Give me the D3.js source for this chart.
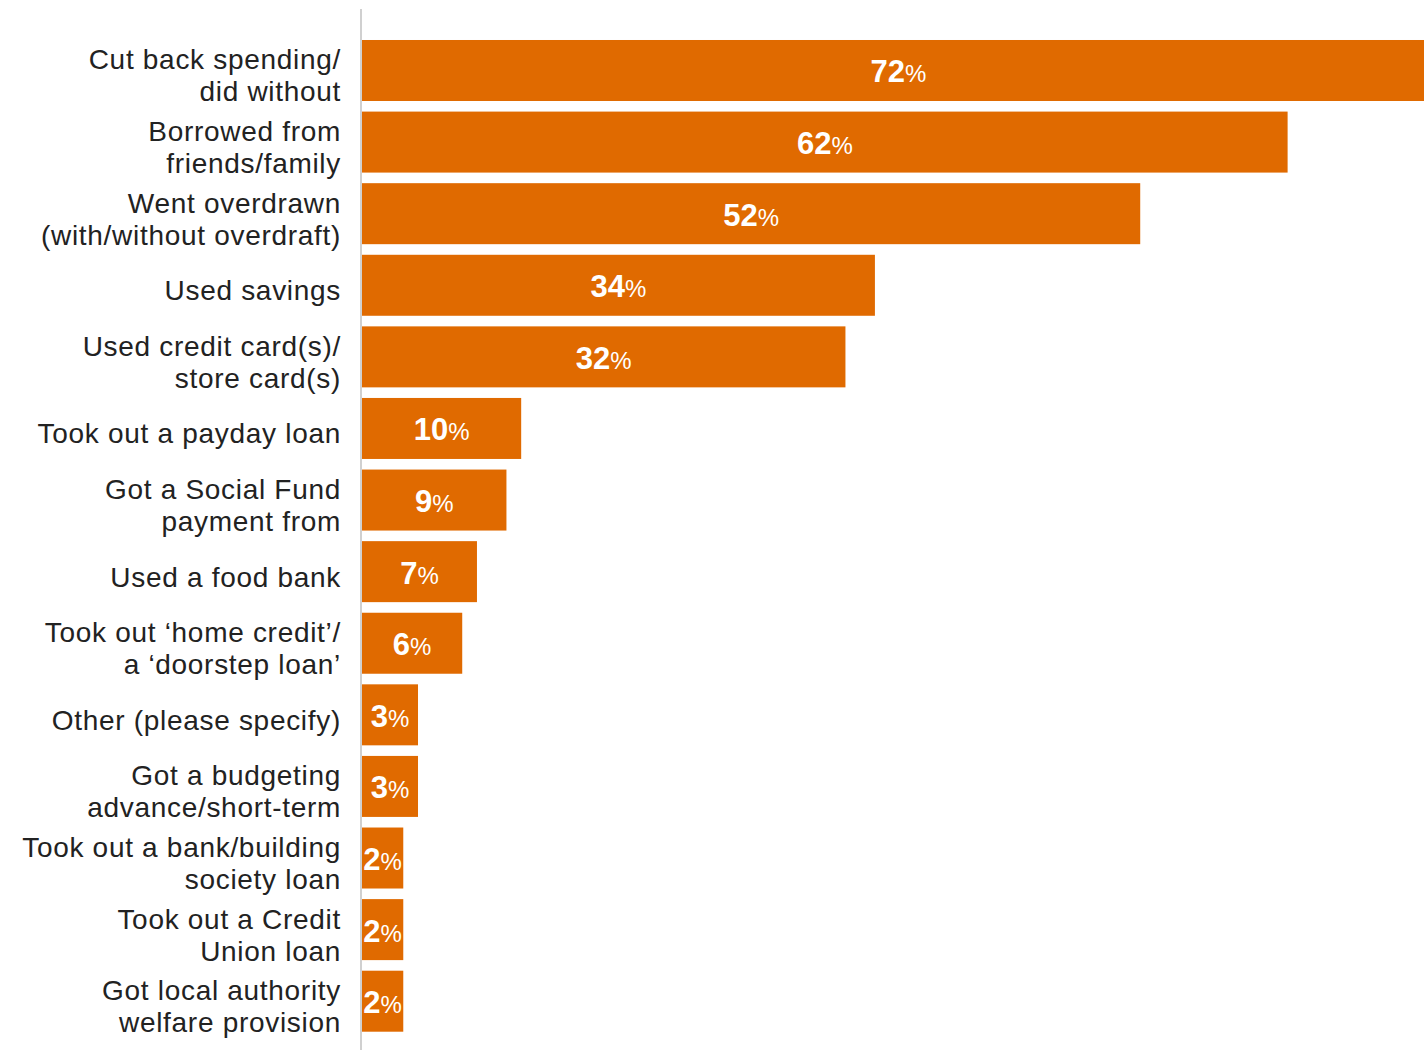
<!DOCTYPE html>
<html>
<head>
<meta charset="utf-8">
<script src="https://cdn.jsdelivr.net/npm/d3@7"></script>
<style>
  html, body { margin: 0; padding: 0; background: #fff; }
  svg { display: block; }
</style>
</head>
<body>
<svg id="chart" width="1424" height="1050"></svg>
<script>
// Actions taken, each category label split into its display lines
const categories = [
  ["Cut back spending/", "did without"],
  ["Borrowed from", "friends/family"],
  ["Went overdrawn", "(with/without overdraft)"],
  ["Used savings"],
  ["Used credit card(s)/", "store card(s)"],
  ["Took out a payday loan"],
  ["Got a Social Fund", "payment from"],
  ["Used a food bank"],
  ["Took out \u2018home credit\u2019/", "a \u2018doorstep loan\u2019"],
  ["Other (please specify)"],
  ["Got a budgeting", "advance/short-term"],
  ["Took out a bank/building", "society loan"],
  ["Took out a Credit", "Union loan"],
  ["Got local authority", "welfare provision"]
];
// Share of respondents (%)
const values = [72, 62, 52, 34, 32, 10, 9, 7, 6, 3, 3, 2, 2, 2];

const data = categories.map((lines, i) => ({ key: i, lines, value: values[i] }));

const svg = d3.select("#chart");
const barColor = "#E06A00";
const font = "'Liberation Sans', Arial, Helvetica, sans-serif";

// Bars grow from the left edge of the scale's domain (slightly below zero)
const x = d3.scaleLinear().domain([-0.8, 72]).range([362, 1435]);
const x0 = x.range()[0];
const y = d3.scaleBand()
  .domain(data.map(d => d.key))
  .range([34.7, 1037])
  .paddingInner(0.148)
  .paddingOuter(0.074);

// Bars
svg.append("g").selectAll("rect")
  .data(data)
  .join("rect")
  .attr("x", x0)
  .attr("y", d => y(d.key))
  .attr("width", d => x(d.value) - x0)
  .attr("height", y.bandwidth())
  .attr("fill", barColor);

// Baseline rule on the left edge of the bars
svg.append("line")
  .attr("x1", 361).attr("x2", 361)
  .attr("y1", 9).attr("y2", 1050)
  .attr("stroke", "#d0d0d0")
  .attr("stroke-width", 2);

// Category labels, right-aligned beside the rule
const lineH = 32;
const labels = svg.append("g")
  .attr("font-family", font)
  .attr("font-size", 28)
  .attr("letter-spacing", 0.7)
  .attr("fill", "#222")
  .attr("text-anchor", "end");

labels.selectAll("text")
  .data(data)
  .join("text")
  .attr("x", 341)
  .attr("y", d => y(d.key) + y.bandwidth() / 2 + 15 - (d.lines.length - 1) * lineH / 2)
  .each(function(d) {
    d3.select(this).selectAll("tspan")
      .data(d.lines)
      .join("tspan")
      .attr("x", 341)
      .attr("dy", (l, i) => i === 0 ? 0 : lineH)
      .text(l => l);
  });

// Value labels centred in each bar
const vals = svg.append("g")
  .attr("font-family", font)
  .attr("fill", "#fff")
  .attr("text-anchor", "middle");

vals.selectAll("text")
  .data(data)
  .join("text")
  .attr("x", d => (x0 + x(d.value)) / 2)
  .attr("y", d => y(d.key) + y.bandwidth() / 2 + 12)
  .each(function(d) {
    const t = d3.select(this);
    t.append("tspan").attr("font-size", 31).attr("font-weight", "bold").text(d.value);
    t.append("tspan").attr("font-size", 24).text("%");
  });
</script>
</body>
</html>
